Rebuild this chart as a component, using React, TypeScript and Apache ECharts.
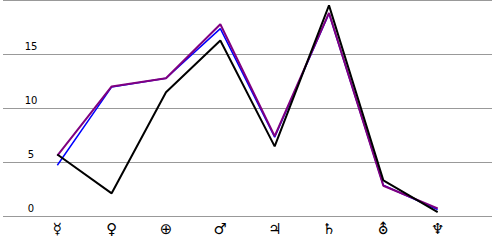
import React, { useEffect, useRef } from "react";
import * as echarts from "echarts";

const planets = ["☿", "♀", "⊕", "♂", "♃", "♄", "⛢", "♆"];
const yTicks = [0, 5, 10, 15, 20];
const blackSeries = [5.7, 2.1, 11.45, 16.25, 6.45, 19.5, 3.3, 0.35];
const blueSeries = [4.7, 11.95, 12.75, 17.35, 7.3, 18.75, 2.85, 0.6];
const purpleSeries = [5.6, 12.0, 12.75, 17.75, 7.4, 18.8, 2.8, 0.7];

const toPoints = (vals: number[]) => vals.map((v, i) => [i + 1, v]);

export default function App() {
  const ref = useRef<HTMLDivElement>(null);
  useEffect(() => {
    if (!ref.current) return;
    const chart = echarts.init(ref.current, undefined, { renderer: "svg" });
    chart.setOption({
      animation: false,
      textStyle: { fontFamily: "DejaVu Sans" },
      grid: { left: 0, right: 0, top: 0, bottom: 32 },
      xAxis: {
        type: "value",
        min: 0,
        max: planets.length + 1,
        interval: 1,
        axisLine: { show: false },
        axisTick: { show: false },
        splitLine: { show: false },
        axisLabel: {
          margin: 5,
          fontSize: 15,
          color: "#000",
          fontFamily: "DejaVu Sans",
          formatter: (v: number) => planets[v - 1] ?? "",
        },
      },
      yAxis: {
        type: "value",
        min: yTicks[0],
        max: yTicks[yTicks.length - 1],
        interval: 5,
        axisLine: { show: false },
        axisTick: { show: false },
        splitLine: { show: true, lineStyle: { color: "#999", width: 1 } },
        axisLabel: {
          inside: true,
          margin: 28,
          align: "center",
          verticalAlign: "bottom",
          padding: [0, 0, 3, 0],
          fontSize: 10,
          color: "#000",
          fontFamily: "DejaVu Sans",
          formatter: (v: number) => (v === yTicks[yTicks.length - 1] ? "" : String(v)),
        },
      },
      series: [
        {
          type: "line",
          data: toPoints(blueSeries),
          symbol: "none",
          lineStyle: { color: "#0000ff", width: 1.5 },
        },
        {
          type: "line",
          data: toPoints(purpleSeries),
          symbol: "none",
          lineStyle: { color: "#800080", width: 2 },
        },
        {
          type: "line",
          data: toPoints(blackSeries),
          symbol: "none",
          lineStyle: { color: "#000", width: 2 },
        },
      ],
    });
    return () => chart.dispose();
  }, []);
  return (
    <div
      ref={ref}
      style={{ position: "fixed", left: 0, top: 0, width: 495, height: 248, background: "#fff" }}
    />
  );
}
